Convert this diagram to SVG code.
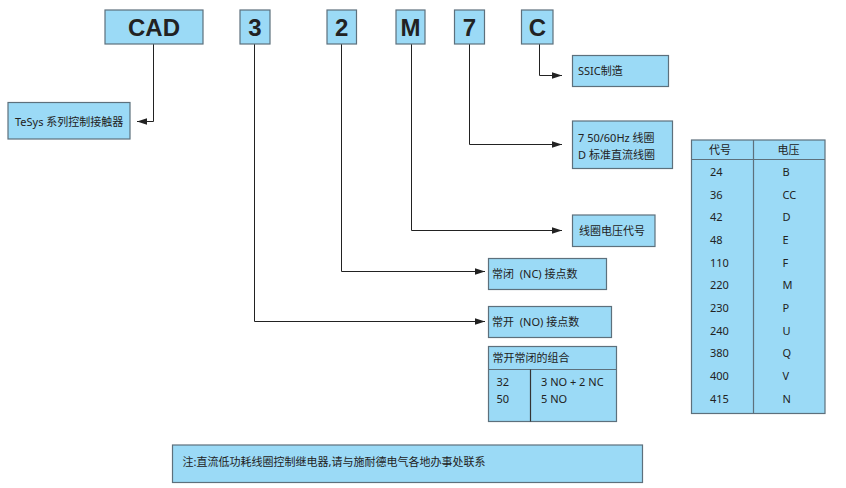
<svg xmlns="http://www.w3.org/2000/svg" width="846" height="488" viewBox="0 0 846 488">
<style>
.box{fill:#9bdaf6;stroke:#5d707c;stroke-width:1.2}
.big{font-family:"Liberation Sans",Arial,sans-serif;font-weight:bold;font-size:24px;fill:#222;text-anchor:middle}
.t{font-family:"Noto Sans","Noto Sans CJK SC",sans-serif;font-size:11px;fill:#222;white-space:pre}
.ln{fill:none;stroke:#222;stroke-width:1}
.dv{stroke:#5d707c;stroke-width:1.2}
.dk{stroke:#333;stroke-width:1.2}
</style>
<defs>
<marker id="ah" viewBox="0 0 10 8" refX="10" refY="4" markerWidth="10" markerHeight="8" markerUnits="userSpaceOnUse" orient="auto">
<path d="M0,0.8 L10,4 L0,7.2 Z" fill="#222"/>
</marker>
</defs>
<rect width="846" height="488" fill="#fff"/>
<g id="connectors">
<path class="ln" d="M153.5,44 V121.5 H137" marker-end="url(#ah)"/>
<path class="ln" d="M539.5,44 V75.5 H562" marker-end="url(#ah)"/>
<path class="ln" d="M469.5,44 V144.5 H562" marker-end="url(#ah)"/>
<path class="ln" d="M411.5,44 V230.5 H562" marker-end="url(#ah)"/>
<path class="ln" d="M341.5,44 V271.5 H485" marker-end="url(#ah)"/>
<path class="ln" d="M254.5,44 V321.5 H485" marker-end="url(#ah)"/>
</g>
<g id="n-cad"><rect class="box" x="105" y="10" width="98" height="34"/><text class="big" x="154" y="35.5">CAD</text></g>
<g id="n-3"><rect class="box" x="240" y="10" width="30" height="34"/><text class="big" x="255" y="35.5">3</text></g>
<g id="n-2"><rect class="box" x="327" y="10" width="29.5" height="34"/><text class="big" x="341.8" y="35.5">2</text></g>
<g id="n-m"><rect class="box" x="396" y="10" width="29" height="34"/><text class="big" x="410.5" y="35.5">M</text></g>
<g id="n-7"><rect class="box" x="454.5" y="10" width="30" height="34"/><text class="big" x="469.5" y="35.5">7</text></g>
<g id="n-c"><rect class="box" x="521.5" y="10" width="31.5" height="34"/><text class="big" x="537.3" y="35.5">C</text></g>
<g id="n-tesys"><rect class="box" x="8" y="102.5" width="122" height="36.5"/><text class="t" x="15" y="125.5">TeSys 系列控制接触器</text></g>
<g id="n-ssic"><rect class="box" x="572.5" y="55.5" width="96" height="31"/><text class="t" x="578" y="75">SSIC制造</text></g>
<g id="n-coil"><rect class="box" x="572.5" y="121" width="100" height="47.5"/><text class="t" x="578" y="141.5">7 50/60Hz 线圈</text><text class="t" x="578" y="159">D 标准直流线圈</text></g>
<g id="n-code"><rect class="box" x="572.5" y="215" width="82.5" height="31.5"/><text class="t" x="579" y="234.5">线圈电压代号</text></g>
<g id="n-nc"><rect class="box" x="488.5" y="258.5" width="118" height="31"/><text class="t" x="492" y="278">常闭  (NC) 接点数</text></g>
<g id="n-no"><rect class="box" x="488.5" y="306.5" width="123" height="31"/><text class="t" x="492" y="326">常开  (NO) 接点数</text></g>
<g id="n-combo">
<rect class="box" x="488.5" y="346.5" width="128" height="75"/>
<line class="dv" x1="488.5" y1="369.5" x2="616.5" y2="369.5"/>
<line class="dk" x1="530.5" y1="369.5" x2="530.5" y2="421.5"/>
<text class="t" x="492.5" y="362">常开常闭的组合</text>
<text class="t" x="496.5" y="386">32</text><text class="t" x="541" y="386">3 NO + 2 NC</text>
<text class="t" x="496.5" y="403">50</text><text class="t" x="541" y="403">5 NO</text>
</g>
<g id="n-volt">
<rect class="box" x="691.5" y="140" width="133.5" height="273.5"/>
<line class="dv" x1="691.5" y1="159.5" x2="825" y2="159.5"/>
<line class="dv" x1="753.5" y1="140" x2="753.5" y2="413.5"/>
<text class="t" x="720" y="154" text-anchor="middle">代号</text>
<text class="t" x="788.5" y="154" text-anchor="middle">电压</text>
<text class="t" x="710" y="176">24</text><text class="t" x="782.5" y="176">B</text>
<text class="t" x="710" y="198.7">36</text><text class="t" x="782.5" y="198.7">CC</text>
<text class="t" x="710" y="221.3">42</text><text class="t" x="782.5" y="221.3">D</text>
<text class="t" x="710" y="244">48</text><text class="t" x="782.5" y="244">E</text>
<text class="t" x="710" y="266.6">110</text><text class="t" x="782.5" y="266.6">F</text>
<text class="t" x="710" y="289.2">220</text><text class="t" x="782.5" y="289.2">M</text>
<text class="t" x="710" y="311.9">230</text><text class="t" x="782.5" y="311.9">P</text>
<text class="t" x="710" y="334.5">240</text><text class="t" x="782.5" y="334.5">U</text>
<text class="t" x="710" y="357.2">380</text><text class="t" x="782.5" y="357.2">Q</text>
<text class="t" x="710" y="379.8">400</text><text class="t" x="782.5" y="379.8">V</text>
<text class="t" x="710" y="402.5">415</text><text class="t" x="782.5" y="402.5">N</text>
</g>
<g id="n-note"><rect class="box" x="172.5" y="445" width="470" height="37.5"/><text class="t" x="182.5" y="465.5">注:直流低功耗线圈控制继电器,请与施耐德电气各地办事处联系</text></g>
</svg>
